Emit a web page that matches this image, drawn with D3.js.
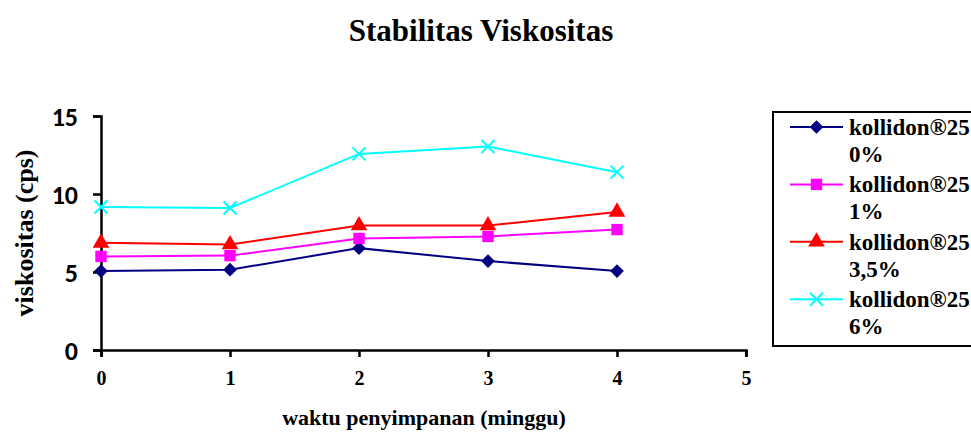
<!DOCTYPE html>
<html>
<head>
<meta charset="utf-8">
<script src="https://cdn.jsdelivr.net/npm/d3@7"></script>
<style>
body { margin: 0; background: #fff; }
</style>
</head>
<body>
<div id="chart"></div>
<script>
var weeks = [0, 1, 2, 3, 4];
var xTicks = [0, 1, 2, 3, 4, 5];
var yTicks = [0, 5, 10, 15];
var names = ['kollidon®25 0%', 'kollidon®25 1%', 'kollidon®25 3,5%', 'kollidon®25 6%'];
var k0 = [5.06, 5.15, 6.53, 5.7, 5.06];
var k1 = [6.0, 6.05, 7.15, 7.28, 7.72];
var k35 = [6.87, 6.76, 7.98, 7.98, 8.85];
var k6 = [9.17, 9.1, 12.57, 13.04, 11.4];

var series = [
  {name: names[0], values: k0, color: '#000080', shape: 'diamond'},
  {name: names[1], values: k1, color: '#ff00ff', shape: 'square'},
  {name: names[2], values: k35, color: '#ff0000', shape: 'triangle'},
  {name: names[3], values: k6, color: '#00ffff', shape: 'x'}
];

var width = 971, height = 446;
var svg = d3.select('#chart').append('svg')
  .attr('width', width).attr('height', height);

var x = d3.scaleLinear().domain([0, 5]).range([101, 746]);
var y = d3.scaleLinear().domain([0, 15]).range([350, 116]);

var serif = '"Liberation Serif", "Times New Roman", serif';
var sans = 'Carlito, "Open Sans", "Liberation Sans", sans-serif';

// title
svg.append('text')
  .attr('x', 481).attr('y', 41)
  .attr('text-anchor', 'middle')
  .style('font-family', serif).style('font-weight', 'bold').style('font-size', '31px')
  .text('Stabilitas Viskositas');

// axes
var yAxis = svg.append('g').attr('transform', 'translate(101,0)')
  .call(d3.axisLeft(y).tickValues(yTicks).tickSize(8).tickFormat(d3.format('d')));
var xAxis = svg.append('g').attr('transform', 'translate(0,350)')
  .call(d3.axisBottom(x).tickValues(xTicks).tickSize(7).tickFormat(d3.format('d')));

[yAxis, xAxis].forEach(function(a) {
  a.select('.domain').attr('stroke', '#000').attr('stroke-width', 2.5);
  a.selectAll('.tick line').attr('stroke', '#000').attr('stroke-width', 2.5);
});
yAxis.selectAll('.tick text')
  .attr('x', -23).attr('dy', '0.36em')
  .style('font-family', sans).style('font-weight', 'bold').style('font-size', '26px').attr('fill', '#000');
xAxis.selectAll('.tick text')
  .attr('y', 28).attr('dy', '0.35em')
  .style('font-family', serif).style('font-weight', 'bold').style('font-size', '20px').attr('fill', '#000');

// axis titles
svg.append('text')
  .attr('transform', 'translate(33,233) rotate(-90)')
  .attr('text-anchor', 'middle')
  .style('font-family', serif).style('font-weight', 'bold').style('font-size', '26px')
  .text('viskositas (cps)');
svg.append('text')
  .attr('x', 424).attr('y', 425)
  .attr('text-anchor', 'middle')
  .style('font-family', serif).style('font-weight', 'bold').style('font-size', '22px')
  .text('waktu penyimpanan (minggu)');

function drawMarker(g, shape, color, cx, cy) {
  if (shape === 'x') {
    g.append('path')
      .attr('d', 'M' + (cx - 6.5) + ',' + (cy - 6.5) + 'L' + (cx + 6.5) + ',' + (cy + 6.5) +
                 'M' + (cx - 6.5) + ',' + (cy + 6.5) + 'L' + (cx + 6.5) + ',' + (cy - 6.5))
      .attr('stroke', color).attr('stroke-width', 2).attr('fill', 'none');
  } else {
    var sym = shape === 'diamond' ? d3.symbolDiamond2 : shape === 'square' ? d3.symbolSquare : d3.symbolTriangle;
    var size = shape === 'diamond' ? 120 : shape === 'square' ? 130 : 120;
    g.append('path')
      .attr('d', d3.symbol().type(sym).size(size)())
      .attr('transform', 'translate(' + cx + ',' + cy + ')')
      .attr('fill', color);
  }
}

var line = d3.line().x(function(d, i) { return x(weeks[i]); }).y(function(d) { return y(d); });

series.forEach(function(s) {
  var g = svg.append('g');
  g.append('path').datum(s.values)
    .attr('d', line)
    .attr('fill', 'none').attr('stroke', s.color).attr('stroke-width', 2);
  s.values.forEach(function(v, i) {
    drawMarker(g, s.shape, s.color, x(weeks[i]), y(v));
  });
});

// legend
var leg = svg.append('g');
leg.append('rect')
  .attr('x', 773).attr('y', 112).attr('width', 210).attr('height', 234)
  .attr('fill', '#fff').attr('stroke', '#000').attr('stroke-width', 2);
series.forEach(function(s, i) {
  var ly = 127 + i * 57.4;
  leg.append('line')
    .attr('x1', 790).attr('x2', 843).attr('y1', ly).attr('y2', ly)
    .attr('stroke', s.color).attr('stroke-width', 2);
  drawMarker(leg, s.shape, s.color, 816.5, ly);
  var parts = s.name.split(' ');
  var t = leg.append('text')
    .style('font-family', serif).style('font-weight', 'bold').style('font-size', '23px');
  t.append('tspan').attr('x', 849).attr('y', ly + 8).text(parts[0]);
  t.append('tspan').attr('x', 849).attr('y', ly + 35).text(parts[1]);
});
</script>
</body>
</html>
